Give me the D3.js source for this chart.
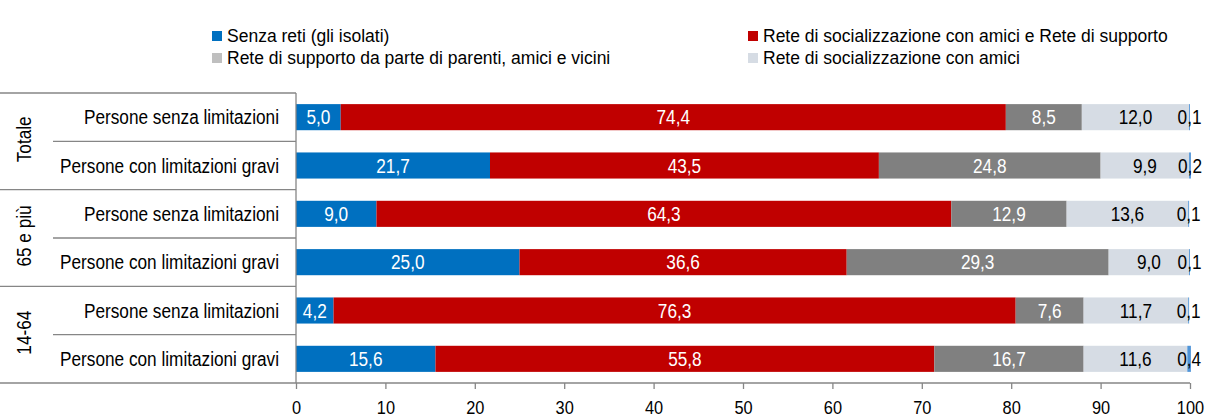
<!DOCTYPE html>
<html lang="it">
<head>
  <meta charset="UTF-8">
  <title>Reti di relazione</title>
  <style>
    body { margin: 0; padding: 0; background: #fff; overflow: hidden; }
    svg text { font-family: 'Liberation Sans', Arial, sans-serif; }
    .grid line { stroke: #868686; stroke-width: 1.3px; }
    .axis path, .axis line { stroke: #868686; stroke-width: 1.3px; }
  </style>
</head>
<body>
  <div id="chart"></div>

  <script src="https://cdnjs.cloudflare.com/ajax/libs/d3/7.8.5/d3.min.js"></script>
  <script>
    // Dati
    const groups = ['Totale', '65 e più', '14-64'];
    const rowLabels = ['Persone senza limitazioni', 'Persone con limitazioni gravi'];
    const seriesNames = [
      'Senza reti (gli isolati)',
      'Rete di socializzazione con amici e Rete di supporto',
      'Rete di supporto da parte di parenti, amici e vicini',
      'Rete di socializzazione con amici',
      'Altro'
    ];
    const isolati     = [5.0, 21.7, 9.0, 25.0, 4.2, 15.6];
    const socSupporto = [74.4, 43.5, 64.3, 36.6, 76.3, 55.8];
    const supporto    = [8.5, 24.8, 12.9, 29.3, 7.6, 16.7];
    const socAmici    = [12.0, 9.9, 13.6, 9.0, 11.7, 11.6];
    const altro       = [0.1, 0.2, 0.1, 0.1, 0.1, 0.4];
    const xTicks = [0, 10, 20, 30, 40, 50, 60, 70, 80, 90, 100];

    const colors = ['#0070C0', '#C00000', '#808080', '#D6DCE4', '#4F94D8'];
    const legendColors = ['#0070C0', '#C00000', '#BFBFBF', '#D6DCE4'];
    const labelColors = ['#fff', '#fff', '#fff', '#000', '#000'];

    const W = 1211, H = 419;
    const svg = d3.select('#chart').append('svg')
      .attr('width', W).attr('height', H);

    // testo stretto (tipo Arial Narrow)
    function squeeze(sel, k) {
      sel.each(function () {
        const L = this.getComputedTextLength();
        d3.select(this).attr('textLength', L * k).attr('lengthAdjust', 'spacingAndGlyphs');
      });
    }
    const NARROW = 0.86;

    // righe: ogni gruppo ha due righe
    const rows = [];
    groups.forEach((g, gi) => rowLabels.forEach((r, ri) => rows.push({ key: gi + '-' + ri, group: g, label: r })));
    const table = rows.map((r, i) => ({
      key: r.key, label: r.label,
      values: [isolati[i], socSupporto[i], supporto[i], socAmici[i], altro[i]]
    }));

    const x = d3.scaleLinear().domain([0, 100]).range([296, 1190]);
    const y = d3.scaleBand().domain(rows.map(r => r.key)).range([93, 383]).paddingInner(0.46).paddingOuter(0.23);
    const step = y.step();
    const y0 = y.range()[0];

    // stack
    const stacked = d3.stack().keys([0, 1, 2, 3, 4]).value((d, k) => d.values[k])(table);

    const layer = svg.selectAll('g.layer').data(stacked).enter().append('g')
      .attr('class', 'layer').attr('fill', (d, i) => colors[i]);

    layer.selectAll('rect').data(d => d).enter().append('rect')
      .attr('x', d => x(d[0]))
      .attr('y', d => y(d.data.key))
      .attr('width', d => x(d[1]) - x(d[0]))
      .attr('height', y.bandwidth());

    // etichette valori
    const fmt = v => d3.format('.1f')(v).replace('.', ',');
    stacked.forEach((s, si) => {
      svg.append('g').selectAll('text').data(s).enter().append('text')
        .attr('x', d => x((d[0] + d[1]) / 2))
        .attr('y', d => y(d.data.key) + y.bandwidth() / 2)
        .attr('dy', '0.36em')
        .attr('text-anchor', 'middle')
        .attr('font-size', 20)
        .attr('fill', labelColors[si])
        .text(d => fmt(d.data.values[si]))
        .call(squeeze, NARROW);
    });

    // linee separatrici a sinistra
    const grid = svg.append('g').attr('class', 'grid');
    rows.forEach((r, i) => {
      const yy = y0 + step * (i + 1);
      grid.append('line')
        .attr('x1', (i % 2 === 1) ? 0 : 53).attr('x2', x(0))
        .attr('y1', yy).attr('y2', yy);
    });
    grid.append('line').attr('x1', 0).attr('x2', x(0)).attr('y1', y0).attr('y2', y0);
    grid.append('line').attr('x1', x(0)).attr('x2', x(0)).attr('y1', y0).attr('y2', 383);

    // etichette righe
    svg.append('g').selectAll('text').data(rows).enter().append('text')
      .attr('x', 279)
      .attr('y', d => y(d.key) + y.bandwidth() / 2)
      .attr('dy', '0.36em')
      .attr('text-anchor', 'end')
      .attr('font-size', 20)
      .attr('fill', '#000')
      .text(d => d.label)
      .call(squeeze, NARROW);

    // etichette gruppi (ruotate)
    groups.forEach((g, gi) => {
      const cy = y0 + step * (gi * 2 + 1) - 2;
      svg.append('text')
        .attr('transform', `translate(24,${cy}) rotate(-90)`)
        .attr('dy', '0.36em')
        .attr('text-anchor', 'middle')
        .attr('font-size', 20)
        .attr('fill', '#000')
        .text(g)
        .call(squeeze, NARROW);
    });

    // asse x
    const axis = svg.append('g').attr('class', 'axis')
      .attr('transform', 'translate(0,383)')
      .call(d3.axisBottom(x).tickValues(xTicks).tickSize(6).tickSizeOuter(0).tickPadding(12));
    axis.selectAll('text').attr('font-size', 19).attr('fill', '#000').call(squeeze, NARROW);
    axis.select('.domain').attr('d', `M${x(0)},0H${x(100)}`);

    // legenda
    const legendPos = [[212, 36], [748, 36], [212, 58], [748, 58]];
    legendPos.forEach((p, i) => {
      const lg = svg.append('g').attr('transform', `translate(${p[0]},${p[1]})`);
      lg.append('rect').attr('x', 0).attr('y', -5).attr('width', 10).attr('height', 10).attr('fill', legendColors[i]);
      lg.append('text').attr('x', 15).attr('dy', '0.36em').attr('font-size', 17.5).attr('fill', '#000')
        .text(seriesNames[i]);
    });
  </script>
</body>
</html>
